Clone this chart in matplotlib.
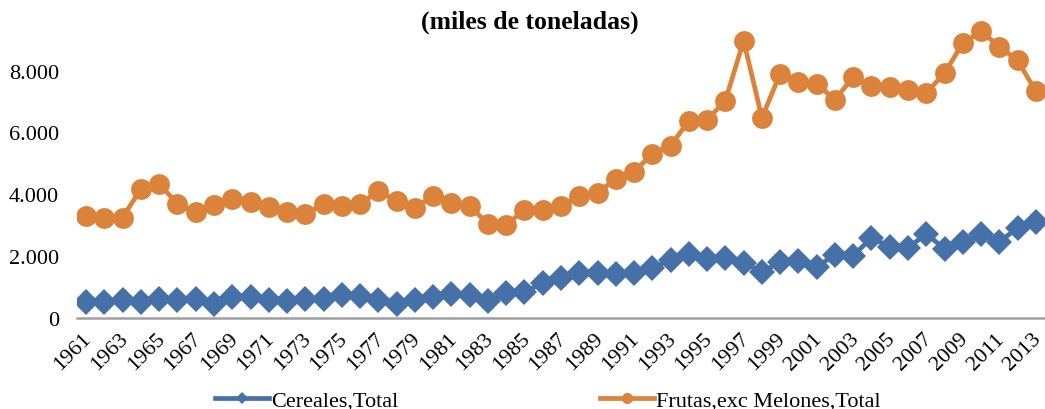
import matplotlib
matplotlib.use("Agg")
import matplotlib.pyplot as plt
from matplotlib.lines import Line2D
from matplotlib.transforms import ScaledTranslation

years = list(range(1961, 2014))
cereales = [520, 520, 580, 520, 620, 580, 620, 450, 680, 680,
            580, 550, 620, 620, 750, 710, 580, 450, 580, 680,
            780, 750, 550, 810, 840, 1130, 1300, 1460, 1460, 1430,
            1460, 1620, 1880, 2070, 1910, 1940, 1780, 1490, 1810, 1850,
            1660, 2040, 2010, 2600, 2300, 2270, 2720, 2240, 2460, 2720,
            2460, 2920, 3120]
frutas = [3300, 3240, 3250, 4180, 4340, 3690, 3430, 3660, 3850, 3760,
          3600, 3430, 3370, 3690, 3630, 3690, 4110, 3790, 3560, 3950,
          3720, 3630, 3040, 3010, 3500, 3500, 3630, 3950, 4050, 4500,
          4730, 5310, 5570, 6380, 6410, 7030, 8970, 6480, 7900, 7640,
          7570, 7060, 7800, 7490, 7460, 7380, 7280, 7920, 8890, 9270,
          8780, 8330, 7330]
yticks = [0, 2000, 4000, 6000, 8000]
ytick_labels = ["0", "2.000", "4.000", "6.000", "8.000"]
title = "(miles de toneladas)"
label_cer = "Cereales,Total"
label_fru = "Frutas,exc Melones,Total"

blue = "#4571A8"
orange = "#DB823B"

plt.rcParams['font.family'] = ['Liberation Serif', 'DejaVu Serif']

fig = plt.figure(figsize=(10.45, 4.10), dpi=100)
ax = fig.add_axes([77/1045, 91/410, 1 - 77/1045, (319 - 16)/410])

x = list(range(len(years)))
ax.plot(x, cereales, color=blue, lw=3.4, marker="D", markersize=13,
        markeredgewidth=0, zorder=3)
ax.plot(x, frutas, color=orange, lw=3.4, marker="o", markersize=15,
        markeredgewidth=0, zorder=3)

ax.set_xlim(-0.5, len(years) - 0.5)
ax.set_ylim(0, 9800)
ax.set_yticks(yticks)
ax.set_yticklabels(ytick_labels, fontsize=16)
ax.set_xticks(x[::2])
ax.set_xticklabels([str(y) for y in years[::2]], rotation=45, ha="right",
                   va="top", rotation_mode="anchor", fontsize=16)
ax.tick_params(axis="both", length=0)
ax.tick_params(axis="y", pad=13)
ax.tick_params(axis="x", pad=8)
off = ScaledTranslation(-4/100, 0, fig.dpi_scale_trans)
for lbl in ax.get_xticklabels():
    lbl.set_transform(lbl.get_transform() + off)
for s in ["top", "right", "left"]:
    ax.spines[s].set_visible(False)
ax.spines["bottom"].set_color("#A0A0A0")
ax.spines["bottom"].set_linewidth(1.8)
ax.spines["bottom"].set_zorder(1)

fig.text(530/1045, 1 - 22/410, title, ha="center", va="center",
         fontsize=18.5, fontweight="bold")

h1 = Line2D([0], [0], color=blue, lw=3.4, marker="D", markersize=6, markeredgewidth=0)
h2 = Line2D([0], [0], color=orange, lw=3.4, marker="o", markersize=8, markeredgewidth=0)
fig.legend([h1, h2], [label_cer, label_fru], loc="center",
           bbox_to_anchor=(548/1045, 1 - 401/410), ncol=2, frameon=False,
           fontsize=16, handlelength=2.4, handletextpad=0.1,
           columnspacing=9.1, borderpad=0)

fig.savefig("out.png", dpi=100)
